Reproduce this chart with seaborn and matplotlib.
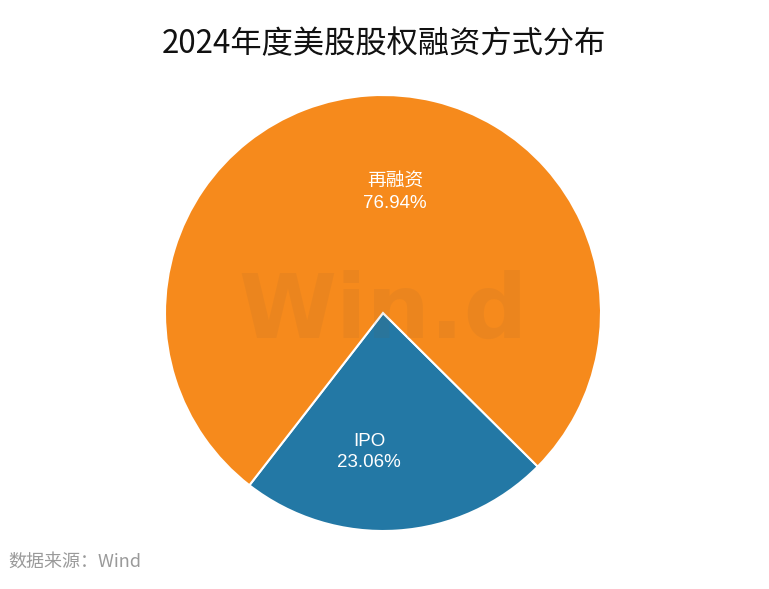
import numpy as np
import matplotlib
matplotlib.use("Agg")
import matplotlib.pyplot as plt
import seaborn as sns

categories = ["IPO", "再融资"]
shares = [23.06, 76.94]
colors = ["#2378A5", "#F68A1C"]

sns.set_theme(style="white")
plt.rcParams["font.family"] = ["Noto Sans CJK SC", "DejaVu Sans"]

fig = plt.figure(figsize=(7.69, 5.89), dpi=100)
W, H = 769, 589
cx, cy, r = 383, 313, 218
ax = fig.add_axes([(cx - r) / W, (H - cy - r) / H, 2 * r / W, 2 * r / H])

start = 232.2
wedges, _ = ax.pie(shares, colors=colors, startangle=start, counterclock=True,
                   radius=1.0, center=(0, 0),
                   wedgeprops=dict(edgecolor="white", linewidth=1.5))
ax.set_xlim(-1, 1)
ax.set_ylim(-1, 1)
ax.set_axis_off()

# watermark
ax.text(0.0, 0.0, "Win.d", ha="center", va="center", fontsize=64, fontweight="bold",
        family=["DejaVu Sans"], color="#7a5a3a", alpha=0.085, zorder=1)

# labels
label_fonts = ["Liberation Sans", "Noto Sans CJK SC"]
radii = [0.64, 0.555]
ang = start
for cat, val, rad in zip(categories, shares, radii):
    span = val / 100 * 360
    mid = np.deg2rad(ang + span / 2 - 9.5)
    x, y = rad * np.cos(mid), rad * np.sin(mid)
    ax.text(x, y, f"{cat}\n{val:.2f}%", ha="center", va="center", fontsize=13.5,
            color="white", family=label_fonts, linespacing=1.3, zorder=5)
    ang += span

fig.text(384 / W, 1 - 44 / H, "2024年度美股股权融资方式分布", ha="center", va="center",
         fontsize=22.5, color="#111111", family=["Noto Sans CJK SC", "DejaVu Sans"])
fig.text(8 / W, 1 - 562 / H, "数据来源：Wind", ha="left", va="center",
         fontsize=13, color="#9a9a9a", family=["Noto Sans CJK SC", "DejaVu Sans"])

fig.savefig("out.png", dpi=100)
